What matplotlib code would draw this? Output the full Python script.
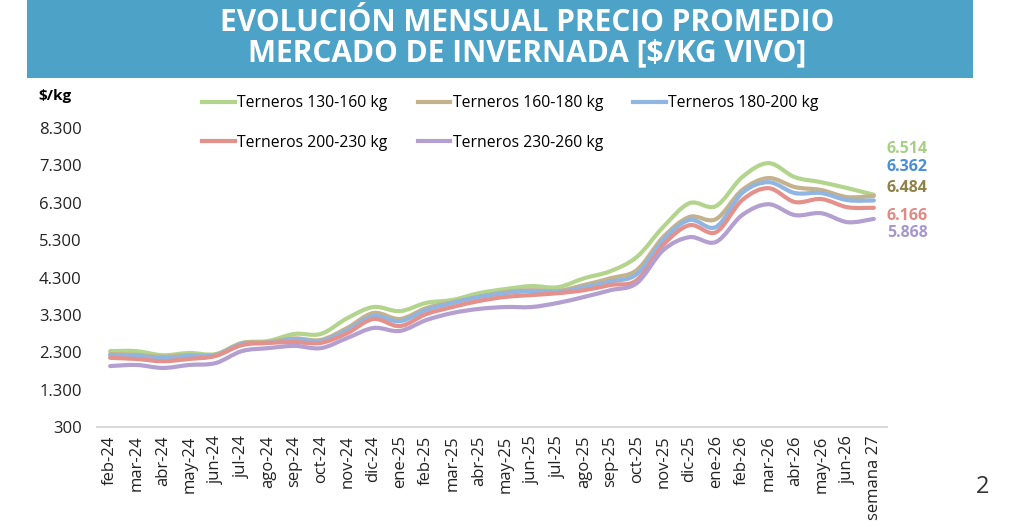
import matplotlib
matplotlib.use('Agg')
import matplotlib.pyplot as plt
import numpy as np
from matplotlib.path import Path
from matplotlib.patches import PathPatch, Rectangle
from matplotlib.lines import Line2D

plt.rcParams['font.family'] = ['Open Sans', 'DejaVu Sans']

meses = ['feb-24', 'mar-24', 'abr-24', 'may-24', 'jun-24', 'jul-24', 'ago-24', 'sep-24', 'oct-24',
         'nov-24', 'dic-24', 'ene-25', 'feb-25', 'mar-25', 'abr-25', 'may-25', 'jun-25', 'jul-25',
         'ago-25', 'sep-25', 'oct-25', 'nov-25', 'dic-25', 'ene-26', 'feb-26', 'mar-26', 'abr-26',
         'may-26', 'jun-26', 'semana 27']

t130_160 = [2330, 2330, 2220, 2280, 2250, 2550, 2600, 2790, 2790, 3210, 3510, 3400, 3620, 3700, 3880,
            3990, 4070, 4040, 4280, 4470, 4850, 5650, 6290, 6210, 6985, 7360, 6985, 6850, 6690, 6514]
t160_180 = [2250, 2230, 2180, 2230, 2230, 2540, 2570, 2670, 2630, 2950, 3350, 3190, 3480, 3640, 3780,
            3910, 3960, 3940, 4100, 4280, 4500, 5380, 5920, 5860, 6640, 6960, 6720, 6640, 6450, 6484]
t180_200 = [2220, 2200, 2150, 2200, 2220, 2520, 2550, 2650, 2600, 2890, 3270, 3130, 3430, 3620, 3780,
            3880, 3940, 3910, 4040, 4190, 4390, 5300, 5840, 5650, 6560, 6850, 6560, 6560, 6370, 6362]
t200_230 = [2150, 2120, 2060, 2120, 2200, 2490, 2550, 2570, 2550, 2810, 3190, 3000, 3320, 3510, 3670,
            3780, 3830, 3880, 3960, 4100, 4230, 5170, 5700, 5510, 6370, 6690, 6320, 6400, 6180, 6166]
t230_260 = [1930, 1960, 1880, 1960, 2010, 2330, 2410, 2470, 2410, 2680, 2950, 2870, 3160, 3350, 3460,
            3510, 3510, 3620, 3780, 3960, 4150, 5030, 5380, 5250, 5970, 6260, 5970, 6020, 5780, 5868]

series = [
    ('Terneros 130-160 kg', t130_160, '#b3d48d', '#a9cf86'),
    ('Terneros 160-180 kg', t160_180, '#c4b28c', '#8f8149'),
    ('Terneros 180-200 kg', t180_200, '#8fb5e2', '#4a8ed8'),
    ('Terneros 200-230 kg', t200_230, '#e5918b', '#e08a85'),
    ('Terneros 230-260 kg', t230_260, '#b49fd1', '#a597cf'),
]
# altura de las etiquetas finales (en unidades del eje), separadas para que no se pisen
etiqueta_y = [7730, 6700, 7250, 5942, 5480]


def curva_suave(x, y):
    # curva tipo Excel "línea suavizada" (Bezier por Catmull-Rom)
    p = np.column_stack([x, y]).astype(float)
    n = len(p)
    verts = [p[0]]
    codes = [Path.MOVETO]
    for i in range(n - 1):
        a = p[i - 1] if i > 0 else p[i]
        d = p[i + 2] if i + 2 < n else p[i + 1]
        c1 = p[i] + (p[i + 1] - a) / 6
        c2 = p[i + 1] - (d - p[i]) / 6
        verts += [c1, c2, p[i + 1]]
        codes += [Path.CURVE4] * 3
    return Path(verts, codes)


fig = plt.figure(figsize=(10.24, 5.27), dpi=100)
W, H = 1024, 527

# banda del título
fig.patches.append(Rectangle((27 / W, 1 - 78 / H), 946 / W, 78 / H, transform=fig.transFigure,
                             facecolor='#4da3c7', edgecolor='none'))
fig.text(527 / W, 1 - 23 / H, 'EVOLUCIÓN MENSUAL PRECIO PROMEDIO', color='white', fontsize=21.5,
         fontweight='bold', ha='center', va='center')
fig.text(527 / W, 1 - 53 / H, 'MERCADO DE INVERNADA [$/KG VIVO]', color='white', fontsize=21.5,
         fontweight='bold', ha='center', va='center')

ax = fig.add_axes([97 / W, 1 - 427 / H, 790 / W, 299 / H])
x = np.arange(len(meses))
handles = []
for nombre, vals, col, _ in series:
    ax.add_patch(PathPatch(curva_suave(x, vals), fill=False, edgecolor=col, lw=3,
                           capstyle='round', joinstyle='round'))
    handles.append(Line2D([], [], color=col, lw=3, label=nombre))

ax.set_xlim(-0.5, len(meses) - 0.5)
ax.set_ylim(300, 8300)
ax.set_yticks(np.arange(300, 8301, 1000))
ax.set_yticklabels([f'{v:,}'.replace(',', '.') for v in range(300, 8301, 1000)])
ax.set_xticks(x)
ax.set_xticklabels(meses, rotation=90)
ax.tick_params(axis='both', length=0, labelsize=12, colors='#222222')
ax.tick_params(axis='y', pad=11)
ax.tick_params(axis='x', pad=6)
for s in ['top', 'right', 'left']:
    ax.spines[s].set_visible(False)
ax.spines['bottom'].set_color('#d9d9d9')
ax.spines['bottom'].set_linewidth(1.5)

# etiquetas de último valor
for (nombre, vals, _, tcol), yl in zip(series, etiqueta_y):
    ax.annotate(f'{vals[-1]:,}'.replace(',', '.'), xy=(len(meses) - 0.5, yl),
                xytext=(0, 0), textcoords='offset points', xycoords='data',
                color=tcol, fontsize=11.5, fontweight='bold', ha='left', va='center',
                annotation_clip=False)

fig.text(38 / W, 1 - 96 / H, '$/kg', fontsize=11, fontweight='bold', ha='left', va='center')

orden = [0, 3, 1, 4, 2]
fig.legend([handles[i] for i in orden], [handles[i].get_label() for i in orden], ncol=3,
           loc='upper left', bbox_to_anchor=(188 / W, 1 - 81 / H), frameon=False, fontsize=11.3,
           handlelength=2.1, handletextpad=0.15, columnspacing=1.9, labelspacing=1.5)

fig.text(983 / W, 1 - 487 / H, '2', fontsize=17, color='#333333', ha='center', va='center')

fig.savefig('out.png', dpi=100)
